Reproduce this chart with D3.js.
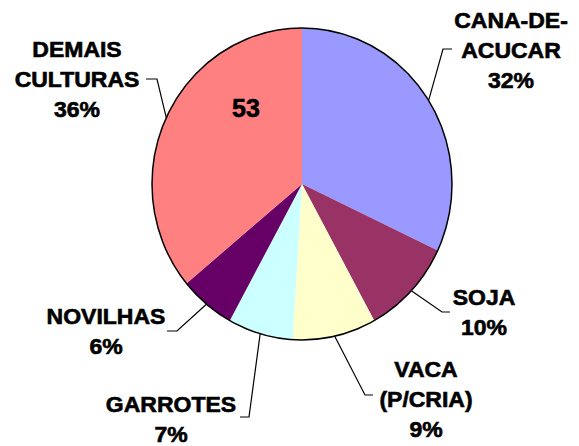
<!DOCTYPE html>
<html>
<head>
<meta charset="utf-8">
<script src="https://cdn.jsdelivr.net/npm/d3@7"></script>
<style>
  body { margin: 0; background: #fff; }
  text { font-family: "Liberation Sans", Arial, sans-serif; font-weight: bold; fill: #000; stroke: #000; stroke-width: 0.6px; }
</style>
</head>
<body>
<svg width="579" height="446"></svg>
<script>
// slices, clockwise from 12 o'clock
var labels = [["CANA-DE-", "ACUCAR"], ["SOJA"], ["VACA", "(P/CRIA)"], ["GARROTES"], ["NOVILHAS"], ["DEMAIS", "CULTURAS"]];
var values = [32, 10, 9, 7, 6, 36];
var colors = ["#9999FF", "#993366", "#FFFFCC", "#CCFFFF", "#660066", "#FF8080"];
var extraLabel = "53";

// where each label block sits (center x, first baseline) and the leader elbow
var layout = [
  { x: 511, y: 28,  elbow: [443, 49],  end: [452, 49] },
  { x: 484, y: 305, elbow: [442, 312], end: [450, 312] },
  { x: 426, y: 377, elbow: [365, 395], end: [373, 395] },
  { x: 171, y: 412, elbow: [249, 417], end: [240, 417] },
  { x: 106, y: 324, elbow: [177, 331], end: [167, 331] },
  { x: 77,  y: 57,  elbow: [157, 79],  end: [146, 79] }
];

var svg = d3.select("svg");
var cx = 302, cy = 184, rx = 150, ry = 156;
var lineH = 30;

var data = values.map(function(v, i) { return { name: labels[i], value: v, color: colors[i], pos: layout[i] }; });

var pie = d3.pie().sort(null).value(function(d) { return d.value; });
var arcs = pie(data);
var arc = d3.arc().innerRadius(0).outerRadius(rx);

var g = svg.append("g")
    .attr("transform", "translate(" + cx + "," + cy + ") scale(1," + (ry / rx) + ")");

g.selectAll("path")
    .data(arcs)
    .enter().append("path")
    .attr("d", arc)
    .attr("fill", function(d) { return d.data.color; });

g.append("circle")
    .attr("r", rx)
    .attr("fill", "none")
    .attr("stroke", "#000")
    .attr("stroke-width", 1.5)
    .attr("vector-effect", "non-scaling-stroke");

// leader lines from slice midpoint on the rim
svg.append("g").selectAll("polyline")
    .data(arcs)
    .enter().append("polyline")
    .attr("fill", "none")
    .attr("stroke", "#000")
    .attr("stroke-width", 1.2)
    .attr("points", function(d) {
        var a = (d.startAngle + d.endAngle) / 2;
        var sx = cx + rx * Math.sin(a), sy = cy - ry * Math.cos(a);
        var p = d.data.pos;
        return [[sx, sy], p.elbow, p.end].join(" ");
    });

var total = d3.sum(values);
var lab = svg.append("g").selectAll("text")
    .data(arcs)
    .enter().append("text")
    .attr("text-anchor", "middle")
    .attr("font-size", 21.5)
    .attr("transform", function(d) { return "translate(" + d.data.pos.x + "," + d.data.pos.y + ") scale(1.07,1)"; });

lab.each(function(d) {
    var t = d3.select(this);
    var lines = d.data.name.concat([Math.round(d.value / total * 100) + "%"]);
    lines.forEach(function(s, i) {
        t.append("tspan")
            .attr("x", 0)
            .attr("dy", i == 0 ? 0 : lineH)
            .text(s);
    });
});

svg.append("text")
    .attr("x", 246)
    .attr("y", 117)
    .attr("text-anchor", "middle")
    .attr("font-size", 25)
    .text(extraLabel);
</script>
</body>
</html>
